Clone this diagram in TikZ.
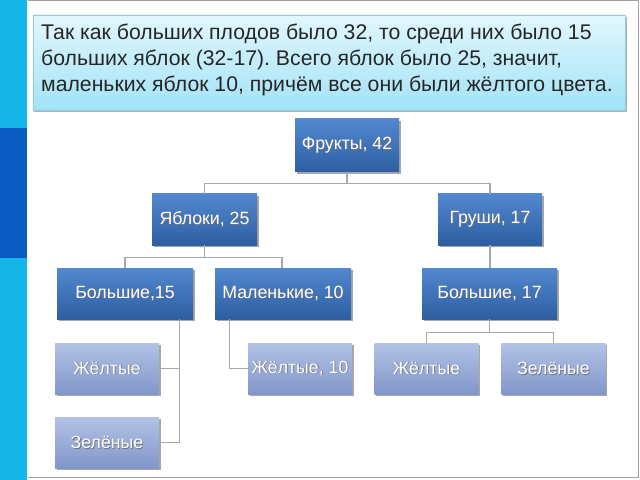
\documentclass[tikz,border=0pt]{standalone}
\usepackage{fontspec}
\setmainfont{Liberation Sans}
\usetikzlibrary{shadows}
\frenchspacing
\definecolor{barcyan}{HTML}{16B6E9}
\definecolor{bardark}{HTML}{0B5CC2}
\definecolor{framegray}{HTML}{A0A0A0}
\definecolor{boxtop}{HTML}{E2F7FD}
\definecolor{boxbot}{HTML}{A2E3F7}
\definecolor{boxline}{HTML}{8FCDE0}
\definecolor{dtop}{HTML}{5288CF}
\definecolor{dbot}{HTML}{2D5EA2}
\definecolor{ltop}{HTML}{B3C3E6}
\definecolor{lbot}{HTML}{8196C9}
\definecolor{linkgray}{HTML}{A8A8A8}
\definecolor{txt}{HTML}{262626}
\newcommand\shtxt[1]{\rlap{\kern0.8bp\raisebox{-0.8bp}{\color{black!55}#1}}#1}
\begin{document}
\begin{tikzpicture}[x=1bp,y=-1bp,
  nodebase/.style={rectangle, inner sep=0pt, text=white,
    font=\fontsize{17.8}{20}\selectfont,
    drop shadow={shadow xshift=1.5bp, shadow yshift=-2bp, fill=black, opacity=0.35}},
  darkbox/.style={nodebase, top color=dtop, bottom color=dbot, minimum height=51bp},
  lightbox/.style={nodebase, top color=ltop, bottom color=lbot, minimum width=104bp, minimum height=51bp},
  link/.style={draw=linkgray, line width=1.3bp},
  infoline/.style={anchor=base west, inner sep=0pt, text=txt, font=\fontsize{21.3}{26}\selectfont}
]
\useasboundingbox (0,0) rectangle (640,480);
\fill[white] (0,0) rectangle (640,480);
% left bar and frame
\fill[barcyan] (0,0) rectangle (27,480);
\fill[bardark] (0,128) rectangle (27,258);
\draw[framegray, line width=1bp] (28,0.5) -- (638.5,0.5) -- (638.5,477.5) -- (28,477.5);
% text box
\node[rectangle, draw=boxline, line width=0.8bp, top color=boxtop, bottom color=boxbot,
  minimum width=592bp, minimum height=95bp, inner sep=0pt,
  drop shadow={shadow xshift=1.5bp, shadow yshift=-2bp, fill=black, opacity=0.3}]
  (info) at (329,62.5) {};
\node[infoline] (l1) at (41,40) {Так как больших плодов было 32, то среди них было 15};
\node[infoline] (l2) at (41,66) {больших яблок (32-17). Всего яблок было 25, значит,};
\node[infoline] (l3) at (41,92) {маленьких яблок 10, причём все они были жёлтого цвета.};
% tree nodes
\node[darkbox, minimum width=104bp, minimum height=53bp] (fr) at (347,145.5) {\shtxt{Фрукты, 42}};
\node[darkbox, minimum width=105bp] (ya) at (204.5,219.5) {\shtxt{Яблоки, 25}};
\node[darkbox, minimum width=104bp] (gr) at (490,219.5) {\shtxt{Груши, 17}};
\node[darkbox, minimum width=136bp] (b15) at (125,293.5) {\shtxt{Большие,15}};
\node[darkbox, minimum width=136bp] (mal) at (283,293.5) {\shtxt{Маленькие, 10}};
\node[darkbox, minimum width=135bp] (b17) at (489.5,293.5) {\shtxt{Большие, 17}};
\node[lightbox] (zh1) at (107,368.5) {\shtxt{Жёлтые}};
\node[lightbox] (ze1) at (107,442.5) {\shtxt{Зелёные}};
\node[lightbox] (zh10) at (300,368.5) {\shtxt{Жёлтые, 10}};
\node[lightbox] (zh2) at (426.5,368.5) {\shtxt{Жёлтые}};
\node[lightbox] (ze2) at (553.5,368.5) {\shtxt{Зелёные}};
% connectors
\draw[link] (fr.south) -- ++(0,11) -| (ya.north);
\draw[link] (fr.south) -- ++(0,11) -| (gr.north);
\draw[link] (ya.south) -- ++(0,12) -| (b15.north);
\draw[link] (ya.south) -- ++(0,12) -| ([xshift=-1bp]mal.north);
\draw[link] (gr.south) -- (gr.south |- b17.north);
\draw[link] ([xshift=-14bp]b15.south east) |- (zh1.east);
\draw[link] ([xshift=-14bp]b15.south east) |- (ze1.east);
\draw[link] ([xshift=15bp]mal.south west) |- (zh10.west);
\draw[link] (b17.south) -- ++(0,13) -| (zh2.north);
\draw[link] (b17.south) -- ++(0,13) -| (ze2.north);
\end{tikzpicture}
\end{document}
